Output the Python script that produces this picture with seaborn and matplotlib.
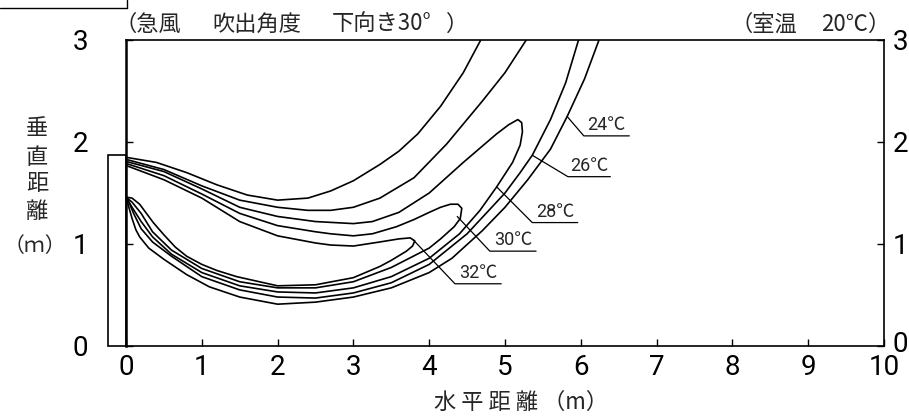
import numpy as np
import matplotlib
matplotlib.use("Agg")
import matplotlib.pyplot as plt
import matplotlib.transforms as mtransforms
import seaborn as sns
from matplotlib.patches import Rectangle
from matplotlib.lines import Line2D

# --- isotherm data (m) ---
iso24_upper_x = [0, 0.4, 0.8, 1.2, 1.6, 2.0, 2.4, 2.7, 3.0, 3.35, 3.6, 3.85, 4.15, 4.45, 4.68]
iso24_upper_y = [1.85, 1.80, 1.70, 1.58, 1.48, 1.43, 1.45, 1.52, 1.62, 1.78, 1.91, 2.08, 2.35, 2.68, 3.0]
iso24_lower_x = [0, 0.03, 0.08, 0.13, 0.18, 0.3, 0.5, 0.8, 1.1, 1.5, 2.0, 2.5, 3.0, 3.5, 4.0, 4.3, 4.7, 5.0, 5.3, 5.6, 5.82, 6.05, 6.24]
iso24_lower_y = [1.46, 1.38, 1.25, 1.14, 1.07, 0.96, 0.85, 0.70, 0.58, 0.48, 0.41, 0.43, 0.48, 0.57, 0.72, 0.86, 1.13, 1.36, 1.63, 1.93, 2.25, 2.62, 3.0]

iso26_upper_x = [0, 0.5, 1.0, 1.5, 2.0, 2.4, 2.7, 3.0, 3.35, 3.8, 4.23, 4.7, 5.0, 5.28]
iso26_upper_y = [1.83, 1.73, 1.57, 1.43, 1.36, 1.33, 1.33, 1.36, 1.45, 1.65, 1.98, 2.40, 2.68, 3.0]
iso26_lower_x = [0, 0.05, 0.1, 0.2, 0.35, 0.6, 1.0, 1.5, 2.0, 2.5, 3.0, 3.5, 4.0, 4.5, 5.0, 5.2, 5.36, 5.6, 5.8, 5.97]
iso26_lower_y = [1.46, 1.39, 1.30, 1.15, 1.02, 0.88, 0.68, 0.55, 0.48, 0.47, 0.52, 0.62, 0.80, 1.10, 1.50, 1.70, 1.87, 2.22, 2.58, 3.0]

iso28_x = [0, 0.5, 1.0, 1.5, 2.0, 2.5, 3.0, 3.25, 3.6, 4.0, 4.45, 4.89, 5.05, 5.17, 5.22,
           5.23, 5.2, 5.1, 4.89, 4.67, 4.4, 4.0, 3.5, 3.0, 2.5, 2.0, 1.5, 1.0, 0.6, 0.35, 0.2, 0.08, 0]
iso28_y = [1.81, 1.71, 1.54, 1.36, 1.27, 1.22, 1.20, 1.22, 1.31, 1.50, 1.80, 2.08, 2.17, 2.22, 2.19,
           2.10, 1.97, 1.80, 1.56, 1.33, 1.10, 0.86, 0.68, 0.57, 0.52, 0.53, 0.59, 0.72, 0.90, 1.07, 1.22, 1.36, 1.46]

iso30_x = [0, 0.5, 1.0, 1.5, 2.0, 2.5, 2.7, 3.0, 3.25, 3.57, 3.8, 4.0, 4.15, 4.28, 4.38, 4.43,
           4.41, 4.33, 4.15, 4.0, 3.5, 3.0, 2.5, 2.0, 1.5, 1.0, 0.6, 0.35, 0.2, 0.08, 0]
iso30_y = [1.79, 1.67, 1.49, 1.30, 1.18, 1.12, 1.10, 1.08, 1.10, 1.17, 1.24, 1.31, 1.36, 1.39, 1.39, 1.35,
           1.25, 1.17, 1.05, 0.96, 0.77, 0.63, 0.57, 0.57, 0.63, 0.76, 0.94, 1.12, 1.30, 1.41, 1.46]

iso32_x = [0, 0.5, 1.0, 1.5, 2.0, 2.5, 2.7, 3.0, 3.35, 3.6, 3.75, 3.81,
           3.78, 3.7, 3.5, 3.35, 3.0, 2.5, 2.0, 1.46, 1.2, 1.0, 0.8, 0.65, 0.5, 0.36, 0.27, 0.18, 0.08, 0]
iso32_y = [1.77, 1.63, 1.45, 1.22, 1.08, 1.01, 0.99, 0.98, 1.02, 1.05, 1.06, 1.03,
           0.98, 0.93, 0.84, 0.78, 0.67, 0.60, 0.59, 0.68, 0.74, 0.80, 0.88, 0.97, 1.09, 1.21, 1.30, 1.39, 1.45, 1.46]

# labels: text, point on curve, elbow, end of underline (m)
iso_labels = ["24℃", "26℃", "28℃", "30℃", "32℃"]
label_anchor = [(5.82, 2.25), (5.36, 1.87), (4.89, 1.56), (4.37, 1.27), (3.79, 1.04)]
label_elbow = [(6.04, 2.06), (5.83, 1.66), (5.36, 1.21), (4.80, 0.93), (4.34, 0.61)]
label_end = [6.64, 6.39, 5.96, 5.41, 4.95]

x_ticks = list(range(0, 11))
y_ticks = [0, 1, 2, 3]

# heading pieces and their left positions (px)
title_left = ["（急風", "吹出角度", "下向き30°", "）"]
title_left_px = [115, 212, 332, 446]
title_right = ["（室温", "20℃）"]
title_right_px = [731, 821]

sns.set_theme(style="ticks")
plt.rcParams["font.family"] = ["Roboto", "Noto Sans CJK JP", "DejaVu Sans"]
CJK = ["Noto Sans CJK JP", "DejaVu Sans"]

W, H = 909, 417
fig = plt.figure(figsize=(W / 100, H / 100), dpi=100)
ax = fig.add_axes([126 / W, 1 - 346 / H, (884 - 126) / W, (346 - 40) / H])

curves = [
    (iso24_upper_x, iso24_upper_y), (iso24_lower_x, iso24_lower_y),
    (iso26_upper_x, iso26_upper_y), (iso26_lower_x, iso26_lower_y),
    (iso28_x, iso28_y), (iso30_x, iso30_y), (iso32_x, iso32_y),
]
for cx, cy in curves:
    sns.lineplot(x=cx, y=cy, sort=False, estimator=None, color="black", lw=1.2, ax=ax)

for txt, (axx, ayy), (ex, ey), ux in zip(iso_labels, label_anchor, label_elbow, label_end):
    ax.plot([axx, ex, ux], [ayy, ey, ey], color="black", lw=0.9)
    ax.text((ex + ux) / 2, ey + 0.02, txt, ha="center", va="bottom", fontsize=13)

ax.set_xlim(0, 10)
ax.set_ylim(0, 3)
ax.set_xticks(x_ticks)
ax.set_yticks(y_ticks)
ax.set_xlabel("")
ax.set_ylabel("")
ax.tick_params(axis="x", direction="in", length=5, width=1, labelsize=20, pad=6, colors="black")
ax.tick_params(axis="y", direction="in", length=5, width=1, labelsize=20, pad=27, colors="black")
for s in ["top", "bottom", "right"]:
    ax.spines[s].set_linewidth(1.2)
    ax.spines[s].set_color("black")
ax.spines["left"].set_linewidth(1.8)
ax.spines["left"].set_color("black")

ax2 = ax.twinx()
ax2.set_ylim(0, 3)
ax2.set_yticks(y_ticks)
ax2.tick_params(axis="y", direction="in", length=5, width=1, labelsize=20, pad=6, colors="black")
for s in ax2.spines.values():
    s.set_visible(False)
fig.canvas.draw()
zero_lbl = ax2.get_yticklabels()[0]
zero_lbl.set_transform(zero_lbl.get_transform() + mtransforms.ScaledTranslation(0, 0.04, fig.dpi_scale_trans))

# outlet unit box left of the wall
ax.add_patch(Rectangle((-0.24, 0), 0.24, 1.87, fill=False, lw=1.2, ec="black", clip_on=False))

# headings and axis titles
for piece, px in zip(title_left, title_left_px):
    fig.text(px / W, 1 - 24 / H, piece, fontsize=16, ha="left", va="center", family=CJK)
for piece, px in zip(title_right, title_right_px):
    fig.text(px / W, 1 - 24 / H, piece, fontsize=16, ha="left", va="center", family=CJK)
for ch, yy in zip(["垂", "直", "距", "離"], [128, 157, 184, 212]):
    fig.text(37 / W, 1 - yy / H, ch, fontsize=16, ha="center", va="center", family=CJK)
fig.text(35 / W, 1 - 246 / H, "（ｍ）", fontsize=15, ha="center", va="center", family=CJK)
fig.text(521 / W, 1 - 402 / H, "水 平 距 離 （m）", fontsize=16, ha="center", va="center", family=CJK)

# corner frame remnant at top-left
fig.add_artist(Line2D([0, 127 / W], [1 - 8 / H, 1 - 8 / H], transform=fig.transFigure, color="black", lw=1))
fig.add_artist(Line2D([127 / W, 127 / W], [1, 1 - 8 / H], transform=fig.transFigure, color="black", lw=1))

fig.savefig("out.png", dpi=100, facecolor="white")
